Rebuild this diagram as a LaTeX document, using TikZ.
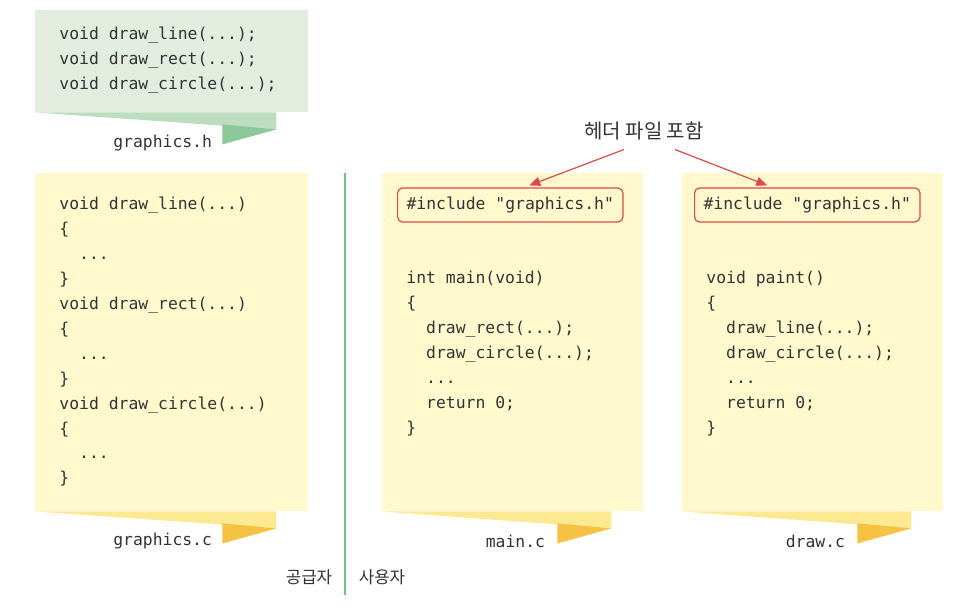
\documentclass[tikz,border=0pt]{standalone}
\usepackage{fontspec}
\setmonofont{DejaVu Sans Mono}
\newfontfamily\krfont{Noto Sans CJK KR}
\usetikzlibrary{positioning,arrows.meta,calc,fit}
\definecolor{pageyel}{HTML}{FFF9CD}
\definecolor{bandyel}{HTML}{FCE992}
\definecolor{triyel}{HTML}{F5C243}
\definecolor{pagegrn}{HTML}{E2EDE0}
\definecolor{bandgrn}{HTML}{BCDDC0}
\definecolor{trigrn}{HTML}{8CC89A}
\definecolor{divgrn}{HTML}{74C08C}
\definecolor{incred}{HTML}{E0484A}
\definecolor{inkgray}{HTML}{333333}
\newcommand{\codefont}{\ttfamily\fontsize{8.2}{12.45}\selectfont}
\tikzset{
  ypage/.style={fill=pageyel,inner sep=0pt},
  gpage/.style={fill=pagegrn,inner sep=0pt},
  code/.style={font=\codefont,text=inkgray,align=left,anchor=north west,inner sep=0pt},
  fname/.style={font=\codefont,text=inkgray,anchor=east,inner sep=0pt},
  incbox/.style={draw=incred,line width=0.6pt,rounded corners=2.5pt,font=\codefont,
    text=inkgray,inner xsep=4.5pt,minimum height=17pt,anchor=west},
  incarr/.style={-{Triangle[length=5.5pt,width=4.5pt]},draw=incred,line width=0.6pt},
  role/.style={font=\krfont\fontsize{8.4}{10}\selectfont,text=inkgray},
  divider/.style={draw=divgrn,line width=0.55pt},
}
% curled corner under a page: light band and darker tab
\newcommand{\pageflap}[3]{%
  \fill[#2] (#1.south west) -- ($(#1.south east)+(-32,0)$) -- ($(#1.south east)+(-32,17)$) -- cycle;
  \fill[#3] ($(#1.south east)+(-86,12)$) -- ($(#1.south east)+(-32,17)$) -- ($(#1.south east)+(-86,32)$) -- cycle;
}
\begin{document}
\begin{tikzpicture}[x=0.5pt,y=-0.5pt]
  \useasboundingbox (0,0) rectangle (970,610);
  % pages
  \node[gpage,fit={(35,10) (308,112)}] (hdr) {};
  \node[ypage,fit={(35,173) (308,511)}] (gsrc) {};
  \node[ypage,fit={(382,173) (643,511)}] (msrc) {};
  \node[ypage,fit={(682,173) (943,511)}] (dsrc) {};
  \pageflap{hdr}{bandgrn}{trigrn}
  \pageflap{gsrc}{bandyel}{triyel}
  \pageflap{msrc}{bandyel}{triyel}
  \pageflap{dsrc}{bandyel}{triyel}
  % file names
  \node[fname] (hname) at ($(hdr.south east)+(-96,31)$) {graphics.h};
  \node[fname] (gname) at ($(gsrc.south east)+(-96,30)$) {graphics.c};
  \node[fname] (mname) at ($(msrc.south east)+(-98,30)$) {main.c};
  \node[fname] (dname) at ($(dsrc.south east)+(-98,30)$) {draw.c};
  % header contents
  \node[code] (hcode) at (59,27) {void draw\_line(...);\\void draw\_rect(...);\\void draw\_circle(...);};
  % library source
  \node[code] (gcode) at (59,197) {void draw\_line(...)\\\{\\\ \ ...\\\}\\void draw\_rect(...)\\\{\\\ \ ...\\\}\\void draw\_circle(...)\\\{\\\ \ ...\\\}};
  % user sources
  \node[incbox] (minc) at (397,205) {\#include "graphics.h"};
  \node[incbox] (dinc) at (694,205) {\#include "graphics.h"};
  \node[code] (mcode) at (406,271) {int main(void)\\\{\\\ \ draw\_rect(...);\\\ \ draw\_circle(...);\\\ \ ...\\\ \ return 0;\\\}};
  \node[code] (dcode) at (706,271) {void paint()\\\{\\\ \ draw\_line(...);\\\ \ draw\_circle(...);\\\ \ ...\\\ \ return 0;\\\}};
  % include arrows
  \node[font=\krfont\fontsize{10}{12}\selectfont,text=inkgray,inner sep=0pt] (inclbl) at (644,131) {헤더 파일 포함};
  \draw[incarr] ($(inclbl.south)+(-20,9)$) -- ($(minc.north)+(19,-2)$);
  \draw[incarr] ($(inclbl.south)+(31,9)$) -- ($(dinc.north)+(-40,-2)$);
  % supplier / user split
  \coordinate (divtop) at (345,173);
  \coordinate (divbot) at (345,595);
  \draw[divider] (divtop) -- (divbot);
  \node[role] (sup) at (309,577) {공급자};
  \node[role] (usr) at (382,577) {사용자};
\end{tikzpicture}
\end{document}
